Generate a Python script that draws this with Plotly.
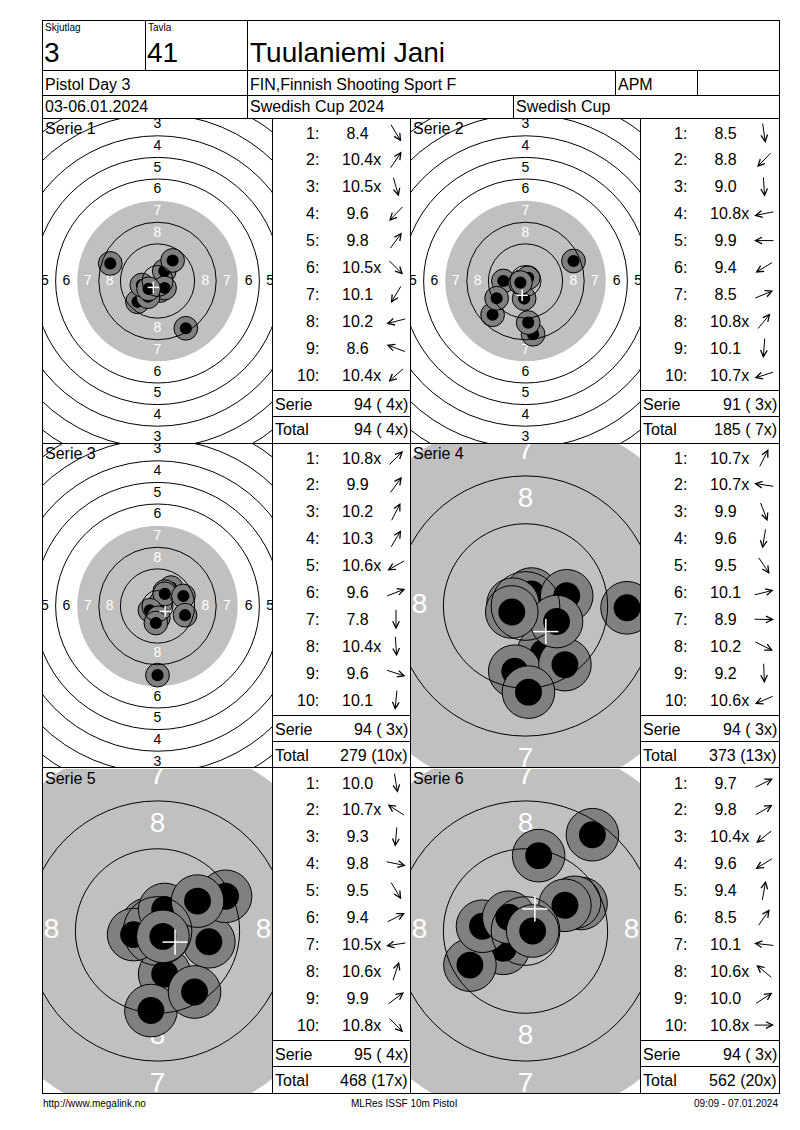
import math
import plotly.graph_objects as go

# ---------------- header / footer texts ----------------
squad_caption = "Skjutlag"
target_caption = "Tavla"
squad_no = "3"
target_no = "41"
shooter_name = "Tuulaniemi Jani"
event_name = "Pistol Day 3"
club_name = "FIN,Finnish Shooting Sport F"
class_name = "APM"
date_text = "03-06.01.2024"
competition = "Swedish Cup 2024"
cup_name = "Swedish Cup"
footer_left = "http://www.megalink.no"
footer_mid = "MLRes ISSF 10m Pistol"
footer_right = "09:09 - 07.01.2024"

# ---------------- series data (shot positions in mm, y up) ----------------
series_labels = ["Serie 1", "Serie 2", "Serie 3", "Serie 4", "Serie 5", "Serie 6"]
zoomed_view = [False, False, False, True, True, True]

scores_s1 = ["8.4", "10.4x", "10.5x", "9.6", "9.8", "10.5x", "10.1", "10.2", "8.6", "10.4x"]
shot_x_s1 = [10.5, 2.5, 1.0, -7.4, 5.6, 2.6, -3.5, -5.8, -17.5, -3.3]
shot_y_s1 = [-17.5, 3.7, -3.5, -7.7, 7.6, -2.6, -5.8, -1.5, 6.5, -2.9]

scores_s2 = ["8.5", "8.8", "9.0", "10.8x", "9.9", "9.4", "8.5", "10.8x", "10.1", "10.7x"]
shot_x_s2 = [2.8, -12.2, 1.0, -1.5, -8.2, -10.7, 17.8, 1.0, -0.5, -1.9]
shot_y_s2 = [-19.7, -12.5, -15.4, -0.3, 0.0, -6.4, 7.4, 1.2, -6.5, -0.6]

scores_s3 = ["10.8x", "9.9", "10.2", "10.3", "10.6x", "9.6", "7.8", "10.4x", "9.6", "10.1"]
shot_x_s3 = [1.1, 5.0, 2.7, 2.7, -2.8, 9.6, 0.0, 0.3, 10.2, -0.6]
shot_y_s3 = [1.1, 6.8, 5.3, 4.5, -1.6, 3.7, -25.6, -4.4, -3.4, -6.3]

scores_s4 = ["10.7x", "10.7x", "9.9", "9.6", "9.5", "10.1", "8.9", "10.2", "9.2", "10.6x"]
shot_x_s4 = [1.0, -2.1, 3.0, -1.8, 6.6, 6.9, 17.0, 5.2, 0.5, -2.3]
shot_y_s4 = [2.0, 0.3, -7.8, -10.9, -9.8, 1.7, -0.3, -2.6, -14.4, -1.0]

scores_s5 = ["10.0", "10.7x", "9.3", "9.8", "9.5", "9.4", "10.5x", "10.6x", "9.9", "10.8x"]
shot_x_s5 = [1.2, -1.7, -1.1, 8.6, 6.2, 11.4, -4.0, 1.2, 6.7, 0.9]
shot_y_s5 = [-7.2, 1.1, -13.3, -1.8, -10.2, 5.8, -0.6, 3.6, 5.0, -0.9]

scores_s6 = ["9.7", "9.8", "10.4x", "9.6", "9.4", "8.5", "10.1", "10.6x", "10.0", "10.8x"]
shot_x_s6 = [9.3, 8.2, -3.7, -9.3, 2.2, 11.2, -7.2, -2.8, 6.6, 1.2]
shot_y_s6 = [4.6, 4.8, -2.9, -5.7, 12.6, 16.1, 0.8, 2.3, 4.3, 0.0]

# ISSF 10m pistol target rings (number -> outer radius, mm)
ring_numbers = [1, 2, 3, 4, 5, 6, 7, 8, 9, 10]
ring_radius_mm = [77.75, 69.75, 61.75, 53.75, 45.75, 37.75, 29.75, 21.75, 13.75, 5.75]
labelled_rings = [3, 4, 5, 6, 7, 8]
black_ring = 7          # edge of the gray aiming area
hole_outer_mm = 4.4
hole_inner_mm = 2.25

# ---------------- page geometry (pixels) ----------------
W, H = 800, 1130
FONT = "Liberation Sans, Arial, sans-serif"
LEFT, RIGHT = 42, 779
PANEL_TOP, PANEL_H = 118, 325
COLS = [42, 272, 410, 640, 779]
FULL_SCALE, ZOOM_SCALE = 2.71, 6.0   # px per mm
ZOOM_GRAY_MM = 31.3                  # gray area drawn a bit larger in the close-up view

GRAY = "#c0c0c0"
HOLE = "#808080"


def fx(p):
    return p / W


def fy(p):
    return 1 - p / H


shapes = []
annotations = []


def line(x0, y0, x1, y1):
    shapes.append(dict(type="line", xref="paper", yref="paper",
                       x0=fx(x0), y0=fy(y0), x1=fx(x1), y1=fy(y1),
                       line=dict(color="black", width=1), layer="above"))


def text(x, y, s, size, anchor="left", color="black"):
    annotations.append(dict(xref="paper", yref="paper", x=fx(x), y=fy(y), text=s,
                            showarrow=False, xanchor=anchor, yanchor="middle",
                            borderpad=0, font=dict(family=FONT, size=size, color=color)))


# ---------------- header grid ----------------
line(LEFT, 20.5, RIGHT, 20.5)
for yy in [70.5, 95.5, 118.5, 443.5, 767.5, 1093.5]:
    line(LEFT, yy, RIGHT, yy)
line(LEFT + 0.5, 20, LEFT + 0.5, 1094)
line(RIGHT + 0.5, 20, RIGHT + 0.5, 1094)
line(145.5, 20, 145.5, 70)
line(247.5, 20, 247.5, 118)
line(615.5, 70, 615.5, 95)
line(697.5, 70, 697.5, 95)
line(513.5, 95, 513.5, 118)
for cx in COLS[1:4]:
    line(cx + 0.5, 118, cx + 0.5, 1094)

text(44, 28, squad_caption, 10)
text(147, 28, target_caption, 10)
text(43, 52, squad_no, 28)
text(146, 52, target_no, 28)
text(249, 52, shooter_name, 28)
text(44, 84, event_name, 16)
text(249, 84, club_name, 16)
text(617, 84, class_name, 16)
text(44, 107, date_text, 16)
text(249, 107, competition, 16)
text(515, 107, cup_name, 16)

text(42, 1103, footer_left, 10)
text(404, 1103, footer_mid, 10, anchor="center")
text(779, 1103, footer_right, 10, anchor="right")

# ---------------- targets and score tables ----------------
series = [
    (scores_s1, shot_x_s1, shot_y_s1),
    (scores_s2, shot_x_s2, shot_y_s2),
    (scores_s3, shot_x_s3, shot_y_s3),
    (scores_s4, shot_x_s4, shot_y_s4),
    (scores_s5, shot_x_s5, shot_y_s5),
    (scores_s6, shot_x_s6, shot_y_s6),
]
radius_of = dict(zip(ring_numbers, ring_radius_mm))

fig = go.Figure()
axes = {}
running_pts, running_x = 0, 0
ARROW_LEN = 20

for i, (scores, sx, sy) in enumerate(series):
    row, col = divmod(i, 2)
    top = PANEL_TOP + row * PANEL_H
    bottom = top + PANEL_H
    tx0, tx1 = COLS[2 * col], COLS[2 * col + 1]
    bx0, bx1 = COLS[2 * col + 1], COLS[2 * col + 2]
    zoomed = zoomed_view[i]
    scale = ZOOM_SCALE if zoomed else FULL_SCALE
    hw = (tx1 - tx0) / 2 / scale
    hh = (bottom - top) / 2 / scale
    sfx = "" if i == 0 else str(i + 1)
    xr, yr = "x" + sfx, "y" + sfx
    axes["xaxis" + sfx] = dict(domain=[fx(tx0 + 1), fx(tx1)], range=[-hw, hw], anchor=yr,
                               visible=False, fixedrange=True)
    axes["yaxis" + sfx] = dict(domain=[fy(bottom), fy(top + 1)], range=[-hh, hh], anchor=xr,
                               visible=False, fixedrange=True)

    def circ(r, cx=0.0, cy=0.0, fill=None, lc=None, layer="above"):
        shapes.append(dict(type="circle", xref=xr, yref=yr, layer=layer,
                           x0=cx - r, x1=cx + r, y0=cy - r, y1=cy + r,
                           fillcolor=fill if fill else "rgba(0,0,0,0)",
                           line=dict(color=lc if lc else "rgba(0,0,0,0)", width=1 if lc else 0)))

    # gray aiming area
    circ(ZOOM_GRAY_MM if zoomed else radius_of[black_ring], fill=GRAY, layer="below")

    # ring numbers that fall inside the panel
    lx, ly, lt, lc = [], [], [], []
    for n in labelled_rings:
        mid = (radius_of[n] + radius_of[n + 1]) / 2
        for px_, py_ in [(0, mid), (0, -mid), (-mid, 0), (mid, 0)]:
            if abs(px_) > hw or abs(py_) > hh:
                continue
            lx.append(px_)
            ly.append(py_)
            lt.append(str(n))
            lc.append("white" if n >= black_ring else "black")
    fig.add_trace(go.Scatter(x=lx, y=ly, text=lt, mode="text", xaxis=xr, yaxis=yr,
                             textfont=dict(family=FONT, size=28 if zoomed else 14, color=lc),
                             cliponaxis=True, hoverinfo="skip", showlegend=False))

    # shot holes
    for x, y in zip(sx, sy):
        circ(hole_outer_mm, x, y, fill=HOLE, lc="black")
        circ(hole_inner_mm, x, y, fill="black")

    # ring lines over the holes
    for n, r in zip(ring_numbers, ring_radius_mm):
        if n != black_ring:
            circ(r, lc="black")

    # mean point of impact
    mx, my = sum(sx) / len(sx), sum(sy) / len(sy)
    arm = 2.1
    for (a0, b0, a1, b1) in [(mx - arm, my, mx + arm, my), (mx, my - arm, mx, my + arm)]:
        shapes.append(dict(type="line", xref=xr, yref=yr, x0=a0, y0=b0, x1=a1, y1=b1,
                           line=dict(color="white", width=1.5), layer="above"))

    text(tx0 + 2, top + 10, series_labels[i], 16)

    # score table
    for k, (s, x, y) in enumerate(zip(scores, sx, sy)):
        ry = top + 15 + k * 26.9
        text(bx0 + 48, ry, f"{k + 1}:", 16, anchor="right")
        val = float(s.rstrip("x"))
        text(bx0 + 69, ry, ("\u00a0" if val < 10 else "") + s, 16)
        ang = math.atan2(y, x)
        c, sn = math.cos(ang), math.sin(ang)
        cxp, cyp = bx0 + 124, ry
        hx, hy = cxp + ARROW_LEN / 2 * c, cyp - ARROW_LEN / 2 * sn
        annotations.append(dict(xref="paper", yref="paper", x=fx(hx), y=fy(hy), text="",
                                font=dict(size=1), borderpad=0,
                                showarrow=True, arrowhead=5, arrowsize=1.3, arrowwidth=1,
                                arrowcolor="black", standoff=0,
                                ax=-ARROW_LEN * c, ay=ARROW_LEN * sn))

    pts = sum(int(float(s.rstrip("x"))) for s in scores)
    xs = sum(1 for s in scores if s.endswith("x"))
    running_pts += pts
    running_x += xs
    line(bx0, top + 272.5, bx1, top + 272.5)
    line(bx0, top + 298.5, bx1, top + 298.5)
    text(bx0 + 2, top + 286, "Serie", 16)
    text(bx1 - 1, top + 286, f"{pts} ({xs:>2}x)".replace(" ", "\u00a0"), 16, anchor="right")
    text(bx0 + 2, top + 312, "Total", 16)
    text(bx1 - 1, top + 312, f"{running_pts} ({running_x:>2}x)".replace(" ", "\u00a0"), 16,
         anchor="right")

fig.update_layout(
    width=W, height=H,
    margin=dict(l=0, r=0, t=0, b=0),
    paper_bgcolor="white", plot_bgcolor="white",
    showlegend=False,
    shapes=shapes,
    annotations=annotations,
    **axes,
)

fig.write_html("out.html", config={"displayModeBar": False},
               post_script="document.body.style.margin='0';")
